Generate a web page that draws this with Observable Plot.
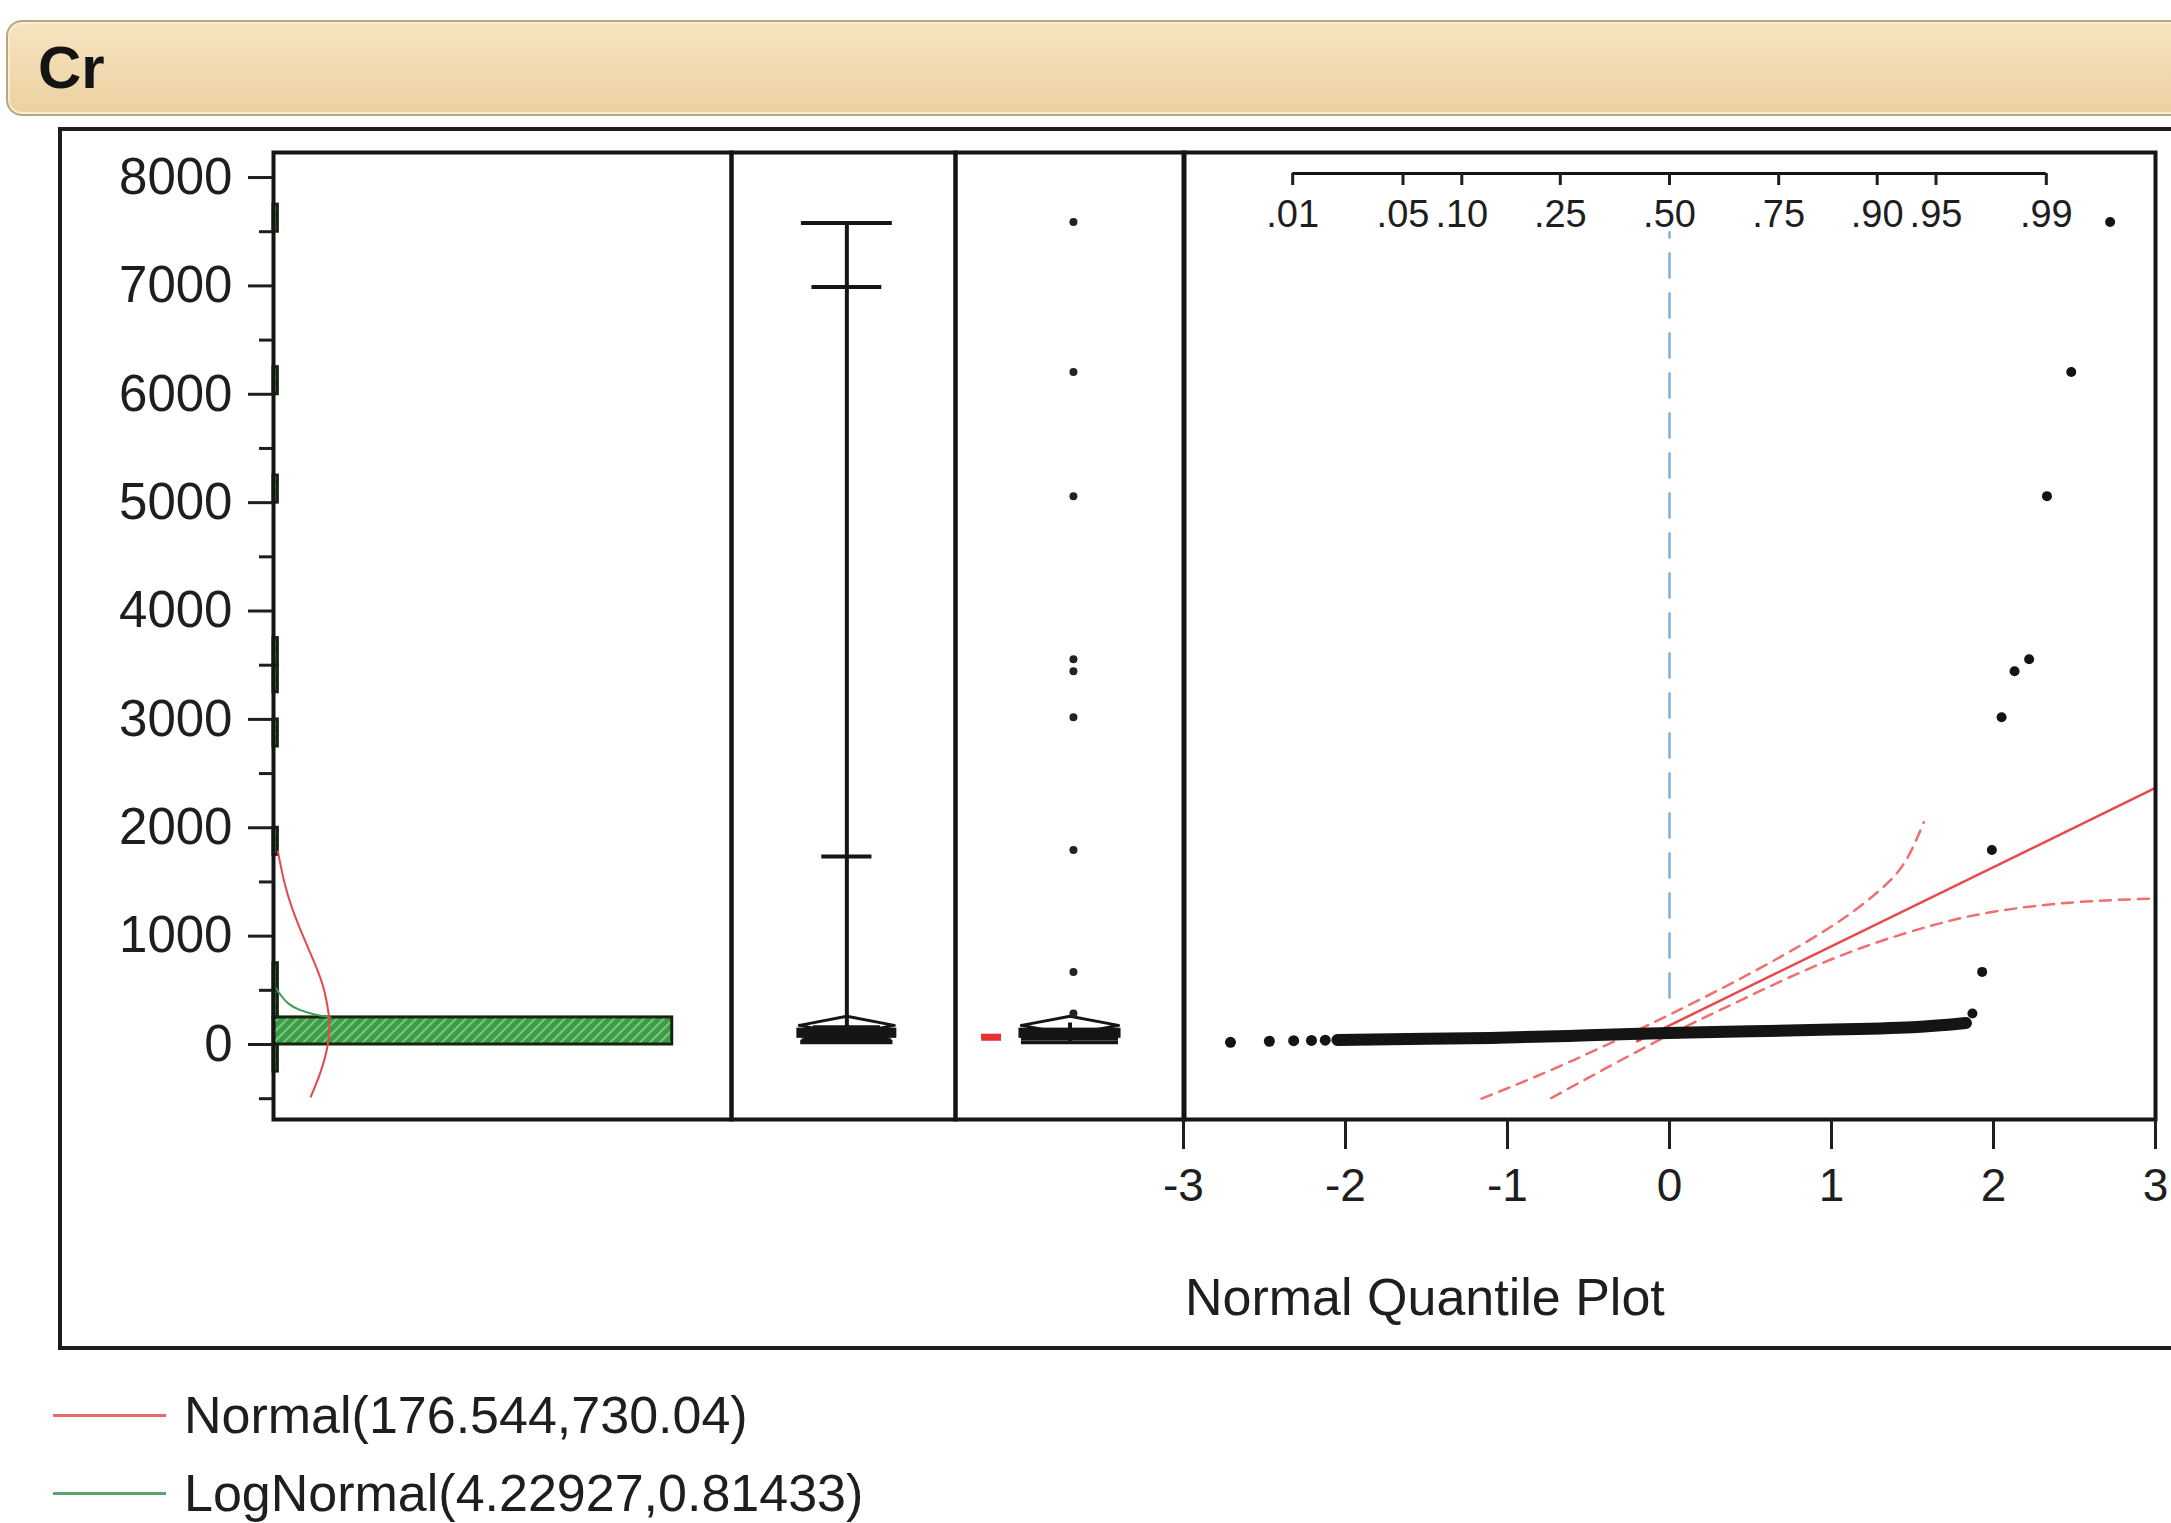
<!DOCTYPE html>
<html>
<head>
<meta charset="utf-8">
<script src="https://cdn.jsdelivr.net/npm/d3@7"></script>
<script src="https://cdn.jsdelivr.net/npm/@observablehq/plot@0.6"></script>
<style>
html,body{margin:0;padding:0;background:#fff;}
body{width:2171px;height:1523px;position:relative;overflow:hidden;font-family:"Liberation Sans",Arial,Helvetica,sans-serif;color:#1e1e1e;}
#titlebar{position:absolute;left:6px;top:20px;width:2250px;height:92px;border:2px solid #bba57d;border-radius:16px;
  background:linear-gradient(180deg,#f6e4c0 0%,#f1dab0 50%,#ecd2a2 100%);box-shadow:inset 0 0 0 2px #f8ecd4;}
#titlebar span{position:absolute;left:30px;top:50%;transform:translateY(-50%);font-weight:bold;font-size:60px;line-height:1;color:#141414;}
#outer{position:absolute;left:58px;top:127px;width:2250px;height:1223px;border:4px solid #1c1c22;box-sizing:border-box;}
#qqlabel{position:absolute;left:1185px;top:1271px;font-size:52px;line-height:1;color:#1e1e1e;}
.legend{position:absolute;left:53px;height:52px;font-size:52px;line-height:1;display:flex;align-items:center;color:#1e1e1e;}
.legend i{display:inline-block;width:113px;height:0;border-top:3px solid;margin-right:18px;}
</style>
</head>
<body>
<div id="titlebar"><span>Cr</span></div>
<div id="outer"></div>
<div id="qqlabel">Normal Quantile Plot</div>
<div class="legend" style="top:1389px"><i style="border-color:#e8696b"></i>Normal(176.544,730.04)</div>
<div class="legend" style="top:1467px"><i style="border-color:#58a56e"></i>LogNormal(4.22927,0.81433)</div>
<script>
// ---------- shared value axis ----------
const yExtent = [-692, 8231];
const yMajorTicks = [0, 1000, 2000, 3000, 4000, 5000, 6000, 7000, 8000];
const yMinorTicks = [-500, 500, 1500, 2500, 3500, 4500, 5500, 6500, 7500];

// ---------- histogram (bin width 250) ----------
const histLo    = [-250, 0,   250, 500, 1750, 2750, 3250, 3500, 5000, 6000, 7500];
const histHi    = [0,    250, 500, 750, 2000, 3000, 3500, 3750, 5250, 6250, 7750];
const histCount = [1,    286, 1,   1,   1,    1,    1,    1,    1,    1,    1];
const histCountMax = 331;

// fitted curves (value, count)
const normalCurveV = [1780, 1500, 1250, 1000, 750, 500, 250, 176, 0, -250, -480];
const normalCurveN = [3.2, 7.8, 13.7, 21.4, 29.7, 36.6, 40.2, 40.4, 39.2, 34.1, 27.0];
const logNormalCurveV = [520, 450, 375, 320, 280, 250];
const logNormalCurveN = [1.6, 5.6, 11.0, 19.0, 29.2, 41.2];

// ---------- quantile box plot ----------
const quantLevels = ["100%", "99.5%", "97.5%", "90%", "75%", "50%", "25%", "10%", "2.5%", "0.5%", "0%"];
const quantValues = [7580, 6990, 1735, 160, 128, 106, 80, 60, 40, 26, 20];
const meanValue = 176.544;
const meanCI = [93, 260];

// ---------- outlier box plot ----------
const whiskerEnds = [20, 198];
const shortestHalf = [30, 95];
const outlierValues = [286, 670, 1795, 3020, 3445, 3555, 5060, 6205, 7590];

// ---------- normal quantile plot ----------
const qqTailZ = [-2.71, -2.47, -2.32, -2.21, -2.125];
const qqTailV = [20, 30, 35, 38, 40];
const qqBandZ = [-2.05, -1.5, -1.0, -0.5, 0, 0.5, 1.0, 1.5, 1.83];
const qqBandV = [42, 52, 64, 85, 106, 122, 138, 160, 198];
const qqHighZ = [1.87, 1.93, 1.99, 2.05, 2.13, 2.22, 2.33, 2.48, 2.72];
const qqHighV = outlierValues;
const fitLineZ = [-0.2, 3.0];
const fitLineV = [30, 2367];
const upperBandZ = [-1.16, -0.8, -0.4, 0, 0.4, 0.8, 1.1, 1.3, 1.45, 1.57];
const upperBandV = [-500, -280, -12, 275, 578, 907, 1191, 1427, 1676, 2050];
const lowerBandZ = [-0.73, -0.4, 0, 0.4, 0.8, 1.2, 1.6, 2.0, 2.5, 3.0];
const lowerBandV = [-494, -225, 90, 380, 660, 900, 1090, 1225, 1312, 1347];
const medianRefV = [420, 7500];
const qqXTicks = [-3, -2, -1, 0, 1, 2, 3];
const qqXDomain = [-3, 3];
const probLabels = [".01", ".05", ".10", ".25", ".50", ".75", ".90", ".95", ".99"];
const probZ = [-2.326, -1.645, -1.282, -0.674, 0, 0.674, 1.282, 1.645, 2.326];

// ---------- helpers ----------
const zip2 = (a, b, ka, kb) => a.map((v, i) => ({[ka]: v, [kb]: b[i]}));
const FONT = "'Liberation Sans', Arial, Helvetica, sans-serif";
const INK = "#151515";
const PANEL_TOP = 152, MT = 10, INNER_H = 967;

function place(svg, left, top) {
  svg.style.position = "absolute";
  svg.style.left = left + "px";
  svg.style.top = top + "px";
  svg.style.background = "transparent";
  svg.style.overflow = "visible";
  svg.style.maxWidth = "none";
  document.body.appendChild(svg);
  return svg;
}
const baseStyle = {fontFamily: FONT, background: "transparent", overflow: "visible", color: "#1e1e1e"};

// ---------- panel 1 : histogram ----------
const histTable = histLo.map((lo, i) => ({lo, hi: histHi[i], count: histCount[i]}));
const normalCurve = zip2(normalCurveV, normalCurveN, "v", "n");
const logNormalCurve = zip2(logNormalCurveV, logNormalCurveN, "v", "n");
const HIST_FILL = "#3f9e4a";

const p1 = Plot.plot({
  width: 673, height: MT + INNER_H + 10,
  marginLeft: 209, marginRight: 6, marginTop: MT, marginBottom: 10,
  style: baseStyle,
  x: {domain: [0, histCountMax], axis: null},
  y: {domain: yExtent, label: null},
  marks: [
    Plot.rectX(histTable, {x: "count", y1: "lo", y2: "hi", insetRight: -3, fill: HIST_FILL, stroke: "#14260f", strokeWidth: 3}),
    Plot.line(logNormalCurve, {x: "n", y: "v", stroke: "#3f9b58", strokeWidth: 2, curve: "natural"}),
    Plot.line(normalCurve, {x: "n", y: "v", stroke: "#e8474a", strokeWidth: 2, curve: "natural"}),
    Plot.frame({stroke: INK, strokeWidth: 4}),
    Plot.axisY(yMinorTicks, {tickSize: 14, strokeWidth: 3, tickFormat: () => "", label: null}),
    Plot.axisY(yMajorTicks, {tickSize: 25, tickPadding: 16, strokeWidth: 3, fontSize: 51, tickFormat: d => String(d), label: null})
  ]
});
place(p1, 64, PANEL_TOP - MT);
{
  const svg = d3.select(p1);
  const defs = svg.insert("defs", ":first-child");
  const pat = defs.append("pattern").attr("id", "hatch").attr("patternUnits", "userSpaceOnUse")
    .attr("width", 7).attr("height", 7).attr("patternTransform", "rotate(45)");
  pat.append("rect").attr("width", 7).attr("height", 7).attr("fill", "#3c9c48");
  pat.append("line").attr("x1", 1).attr("y1", 0).attr("x2", 1).attr("y2", 7).attr("stroke", "#7cc77c").attr("stroke-width", 2);
  svg.selectAll("[fill='" + HIST_FILL + "']").attr("fill", "url(#hatch)");
}

// ---------- panel 2 : quantile box plot ----------
const qv = Object.fromEntries(quantLevels.map((l, i) => [l, quantValues[i]]));
const capHalf = {"100%": 0.203, "99.5%": 0.156, "97.5%": 0.112, "90%": 0.15, "10%": 0.19, "2.5%": 0.2, "0.5%": 0.205, "0%": 0.205};
const capTable = quantLevels.filter(l => l in capHalf).map(l => ({level: l, v: qv[l], half: capHalf[l]}));
const C2 = 0.515, BOX_HALF = 0.212;
const diamond = (c) => [
  {x: c - BOX_HALF, y: meanValue}, {x: c, y: meanCI[1]}, {x: c + BOX_HALF, y: meanValue},
  {x: c, y: meanCI[0]}, {x: c - BOX_HALF, y: meanValue}
];

const p2 = Plot.plot({
  width: 236, height: MT + INNER_H + 10,
  marginLeft: 6, marginRight: 6, marginTop: MT, marginBottom: 10,
  style: baseStyle,
  x: {domain: [0, 1], axis: null},
  y: {domain: yExtent, axis: null},
  marks: [
    Plot.ruleX([C2], {y1: qv["75%"], y2: qv["100%"], stroke: INK, strokeWidth: 4}),
    Plot.ruleX([C2], {y1: qv["0%"], y2: qv["25%"], stroke: INK, strokeWidth: 4}),
    Plot.rect([0], {x1: C2 - BOX_HALF, x2: C2 + BOX_HALF, y1: qv["25%"], y2: qv["75%"], fill: "white", stroke: INK, strokeWidth: 5}),
    Plot.ruleY(capTable, {y: "v", x1: d => C2 - d.half, x2: d => C2 + d.half, stroke: INK, strokeWidth: 4}),
    Plot.ruleY([qv["50%"]], {x1: C2 - BOX_HALF, x2: C2 + BOX_HALF, stroke: INK, strokeWidth: 3}),
    Plot.line(diamond(C2), {x: "x", y: "y", stroke: INK, strokeWidth: 3}),
    Plot.frame({stroke: INK, strokeWidth: 4})
  ]
});
place(p2, 725, PANEL_TOP - MT);

// ---------- panel 3 : outlier box plot ----------
const C3 = 0.5, DOT3 = 0.515;
const p3 = Plot.plot({
  width: 241, height: MT + INNER_H + 10,
  marginLeft: 6, marginRight: 6, marginTop: MT, marginBottom: 10,
  style: baseStyle,
  x: {domain: [0, 1], axis: null},
  y: {domain: yExtent, axis: null},
  marks: [
    Plot.ruleX([C3], {y1: whiskerEnds[0], y2: qv["25%"], stroke: INK, strokeWidth: 4}),
    Plot.ruleX([C3], {y1: qv["75%"], y2: whiskerEnds[1], stroke: INK, strokeWidth: 4}),
    Plot.rect([0], {x1: C3 - BOX_HALF, x2: C3 + BOX_HALF, y1: qv["25%"], y2: qv["75%"], fill: "white", stroke: INK, strokeWidth: 5}),
    Plot.ruleY([whiskerEnds[0], qv["10%"], qv["50%"]], {x1: C3 - BOX_HALF, x2: C3 + BOX_HALF, stroke: INK, strokeWidth: 4}),
    Plot.line(diamond(C3), {x: "x", y: "y", stroke: INK, strokeWidth: 3}),
    Plot.rect([0], {x1: 0.114, x2: 0.201, y1: shortestHalf[0], y2: shortestHalf[1], fill: "#e8302c"}),
    Plot.dot(outlierValues, {x: () => DOT3, y: d => d, r: 4, fill: "#222"}),
    Plot.frame({stroke: INK, strokeWidth: 4})
  ]
});
place(p3, 949, PANEL_TOP - MT);

// ---------- panel 4 : normal quantile plot ----------
const qqTail = zip2(qqTailZ, qqTailV, "z", "v");
const qqBand = zip2(qqBandZ, qqBandV, "z", "v");
const qqHigh = zip2(qqHighZ, qqHighV, "z", "v");
const fitLine = zip2(fitLineZ, fitLineV, "z", "v");
const upperBand = zip2(upperBandZ, upperBandV, "z", "v");
const lowerBand = zip2(lowerBandZ, lowerBandV, "z", "v");
const probLabelByZ = new Map(probZ.map((z, i) => [z, probLabels[i]]));
const PROB_AXIS_OFFSET = 21;   // px below the top of the frame

const p4 = Plot.plot({
  width: 988, height: MT + INNER_H + 130,
  marginLeft: 6, marginRight: 10, marginTop: MT, marginBottom: 130,
  style: baseStyle,
  x: {domain: qqXDomain, label: null},
  y: {domain: yExtent, axis: null},
  marks: [
    Plot.ruleX([0], {y1: medianRefV[0], y2: medianRefV[1], stroke: "#7fb2d2", strokeWidth: 2.5, strokeDasharray: "26,14"}),
    Plot.line(upperBand, {x: "z", y: "v", stroke: "#ef6f70", strokeWidth: 2.5, strokeDasharray: "11,8", curve: "natural"}),
    Plot.line(lowerBand, {x: "z", y: "v", stroke: "#ef6f70", strokeWidth: 2.5, strokeDasharray: "11,8", curve: "natural"}),
    Plot.line(fitLine, {x: "z", y: "v", stroke: "#e9494b", strokeWidth: 2.5}),
    Plot.line(qqBand, {x: "z", y: "v", stroke: "#141414", strokeWidth: 12, strokeLinecap: "round", curve: "natural"}),
    Plot.dot(qqTail, {x: "z", y: "v", r: 5.5, fill: "#141414"}),
    Plot.dot(qqHigh, {x: "z", y: "v", r: 5, fill: "#141414"}),
    Plot.frame({stroke: INK, strokeWidth: 4}),
    Plot.ruleY([yExtent[1]], {x1: probZ[0], x2: probZ[probZ.length - 1], dy: PROB_AXIS_OFFSET, stroke: INK, strokeWidth: 3}),
    Plot.axisX(probZ, {anchor: "bottom", dy: -(INNER_H - PROB_AXIS_OFFSET), tickSize: 12, tickPadding: 15, strokeWidth: 3,
      fontSize: 38, tickFormat: d => probLabelByZ.get(d), label: null}),
    Plot.axisX(qqXTicks, {anchor: "bottom", tickSize: 30, tickPadding: 19, strokeWidth: 3, fontSize: 46,
      tickFormat: d => String(d), label: null})
  ]
});
place(p4, 1177, PANEL_TOP - MT);
</script>
</body>
</html>
